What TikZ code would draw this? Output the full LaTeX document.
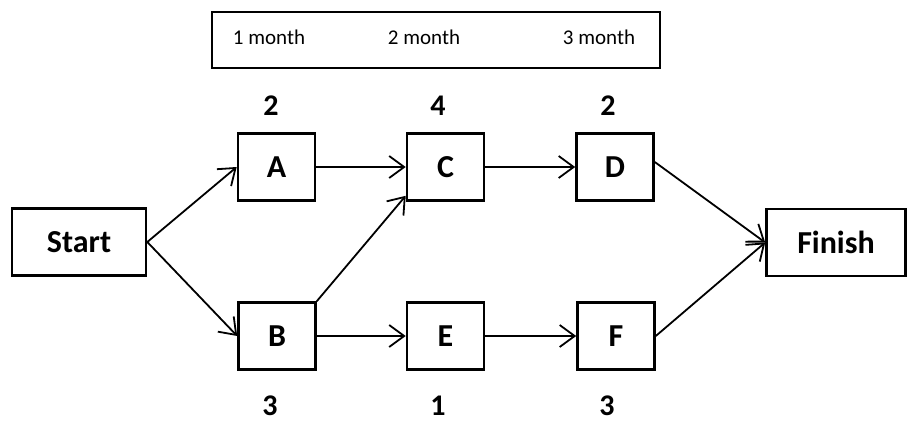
\documentclass[tikz,border=0pt]{standalone}
\usepackage{fontspec}
\setmainfont{Carlito}
\usetikzlibrary{arrows.meta}
\begin{document}
\begin{tikzpicture}[x=1pt,y=-1pt,
  box/.style={draw,line width=2.6pt,inner sep=0pt,minimum width=77pt,minimum height=67pt,font=\fontsize{32}{36}\selectfont\bfseries},
  bigbox/.style={box,minimum width=134pt},
  num/.style={inner sep=0pt,font=\fontsize{30}{34}\selectfont\bfseries},
  mon/.style={inner sep=0pt,font=\fontsize{21}{24}\selectfont},
  arr/.style={line width=1.8pt,-{Straight Barb[length=15pt,width=22pt,line width=1.8pt]}}]
\useasboundingbox (0,0) rectangle (908,423);
\node[draw,line width=2pt,minimum width=448pt,minimum height=56pt,inner sep=0pt] (top) at (436,40) {};
\node[mon] (m1) at (269,37) {1 month};
\node[mon] (m2) at (424,37) {2 month};
\node[mon] (m3) at (599,37) {3 month};
\node[bigbox] (S) at (79,242) {Start};
\node[bigbox,minimum width=139pt] (F2) at (836,242.5) {Finish};
\node[box] (A) at (276.5,167) {A};
\node[box] (C) at (445.5,167) {C};
\node[box] (D) at (615,167) {D};
\node[box] (B) at (277,336) {B};
\node[box] (E) at (445.5,336) {E};
\node[box] (F) at (616,336) {F};
\node[num] (nA) at (271,106) {2};
\node[num] (nC) at (438,106) {4};
\node[num] (nD) at (608,106) {2};
\node[num] (nB) at (270,406) {3};
\node[num] (nE) at (438,406) {1};
\node[num] (nF) at (607,406) {3};
\draw[arr] (S.east) -- (A.west);
\draw[arr] (S.east) -- (B.west);
\draw[arr] (A.east) -- (C.west);
\draw[arr] (B.north east) -- ([yshift=6pt]C.south west);
\draw[arr] (C.east) -- (D.west);
\draw[arr] (B.east) -- (E.west);
\draw[arr] (E.east) -- (F.west);
\draw[arr] ([yshift=5pt]D.east) -- (F2.west);
\draw[arr] (F.east) -- (F2.west);
\end{tikzpicture}
\end{document}
